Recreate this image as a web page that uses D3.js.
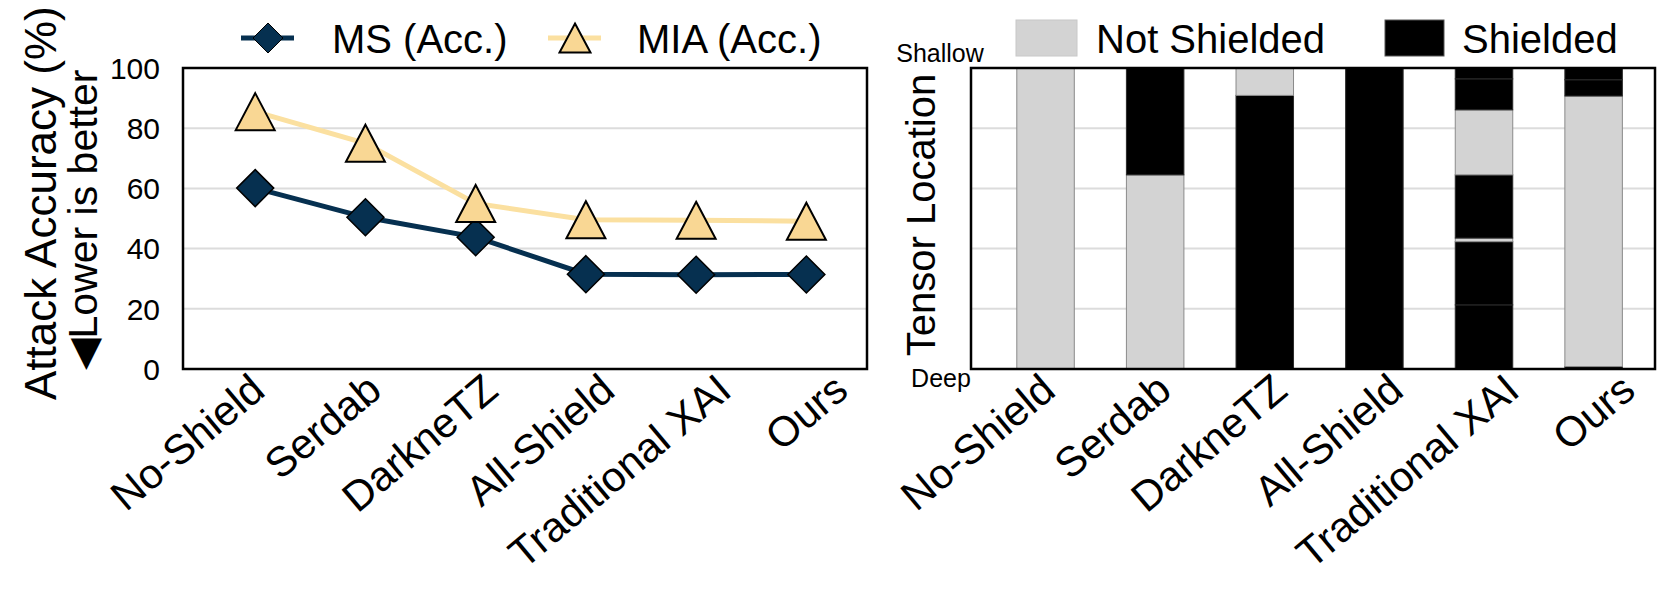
<!DOCTYPE html>
<html lang="en">
<head>
<meta charset="UTF-8">
<title>Attack accuracy and tensor shielding</title>
<style>
  body { margin: 0; background: #fff; }
  text { font-family: "Liberation Sans", Arial, sans-serif; fill: #000; }
</style>
</head>
<body>
<svg id="svg"></svg>
<script src="https://d3js.org/d3.v7.min.js"></script>
<script>
// data
const methods = ["No-Shield", "Serdab", "DarkneTZ", "All-Shield", "Traditional XAI", "Ours"];
const msAcc  = [60.1, 50.4, 43.8, 31.5, 31.3, 31.4];
const miaAcc = [85.5, 75.0, 55.0, 49.6, 49.4, 49.1];
const yTicks = [0, 20, 40, 60, 80, 100];
const gridTicks = [20, 40, 60, 80];

// tensor location segments (0 = deep, 1 = shallow)
const segMethod   = [0, 1, 1, 2, 2, 3, 4, 4, 4, 4, 4, 4, 4, 5, 5, 5, 5];
const segLow      = [0, 0, 0.645, 0, 0.909, 0, 0, 0.213, 0.423, 0.435, 0.645, 0.861, 0.964, 0, 0.008, 0.907, 0.961];
const segHigh     = [1, 0.645, 1, 0.909, 1, 1, 0.213, 0.423, 0.435, 0.645, 0.861, 0.964, 1, 0.008, 0.907, 0.961, 1];
const segShielded = [0, 0, 1, 1, 0, 1, 1, 1, 0, 1, 0, 1, 1, 1, 0, 1, 1];

const width = 1661, height = 592;
const navy = "#063050", mialine = "#fbe0a0", miafill = "#f9d794", lightGray = "#d3d3d3";

const svg = d3.select("#svg").attr("width", width).attr("height", height)
  .attr("viewBox", `0 0 ${width} ${height}`);

const plotTop = 68, plotBottom = 369;
const labelAngle = -40, labelY = 394, labelSize = 42;

// rotated category labels, spread a little wider than the ticks
function drawLabels(g, x) {
  const xl = d3.scaleLinear().domain([0, methods.length - 1])
    .range([x(0) + 12, x(methods.length - 1) + 44]);
  g.selectAll("text.xtick").data(methods).enter().append("text")
    .attr("class", "xtick")
    .attr("transform", (d, i) => `translate(${xl(i)},${labelY}) rotate(${labelAngle})`)
    .attr("text-anchor", "end").attr("font-size", labelSize).text(d => d);
}

// ---------- left chart ----------
const L = {left: 183, right: 867};
const xL = d3.scaleLinear().domain([-0.655, 5.55]).range([L.left, L.right]);
const yL = d3.scaleLinear().domain([0, 100]).range([plotBottom, plotTop]);
const gL = svg.append("g");

gL.selectAll("line.grid").data(gridTicks).enter().append("line")
  .attr("x1", L.left).attr("x2", L.right)
  .attr("y1", d => yL(d)).attr("y2", d => yL(d))
  .attr("stroke", "#dcdcdc").attr("stroke-width", 2);

gL.selectAll("text.ytick").data(yTicks).enter().append("text")
  .attr("x", L.left - 23).attr("y", d => yL(d)).attr("dy", "0.36em")
  .attr("text-anchor", "end").attr("font-size", 30).text(d => d);

const lineGen = ys => d3.line().x((d, i) => xL(i)).y(d => yL(d))(ys);
const diamond = r => `M0,${-r}L${r},0L0,${r}L${-r},0Z`;
const triangle = (w, h) => `M0,${-h}L${w},${h}L${-w},${h}Z`;

gL.append("path").attr("d", lineGen(msAcc)).attr("fill", "none")
  .attr("stroke", navy).attr("stroke-width", 5);
gL.selectAll("path.ms").data(msAcc).enter().append("path")
  .attr("transform", (d, i) => `translate(${xL(i)},${yL(d)})`)
  .attr("d", diamond(18.5)).attr("fill", navy).attr("stroke", "#000").attr("stroke-width", 1.5);

gL.append("path").attr("d", lineGen(miaAcc)).attr("fill", "none")
  .attr("stroke", mialine).attr("stroke-width", 5);
gL.selectAll("path.mia").data(miaAcc).enter().append("path")
  .attr("transform", (d, i) => `translate(${xL(i)},${yL(d)})`)
  .attr("d", triangle(19.5, 18.5)).attr("fill", miafill).attr("stroke", "#000").attr("stroke-width", 2);

gL.append("rect").attr("x", L.left).attr("y", plotTop)
  .attr("width", L.right - L.left).attr("height", plotBottom - plotTop)
  .attr("fill", "none").attr("stroke", "#000").attr("stroke-width", 2.5);

drawLabels(gL, xL);

// y label (two lines)
gL.append("text").attr("transform", "translate(56,400) rotate(-90)")
  .attr("text-anchor", "start").attr("font-size", 44).text("Attack Accuracy (%)");
gL.append("text").attr("transform", "translate(97,220) rotate(-90)")
  .attr("text-anchor", "middle").attr("font-size", 41).text("\u25C0Lower is better");

// legend
const legL = svg.append("g");
legL.append("line").attr("x1", 241).attr("x2", 294).attr("y1", 38).attr("y2", 38)
  .attr("stroke", navy).attr("stroke-width", 5);
legL.append("path").attr("transform", "translate(268,38)").attr("d", diamond(15))
  .attr("fill", navy).attr("stroke", "#000").attr("stroke-width", 1);
legL.append("text").attr("x", 332).attr("y", 53).attr("font-size", 40).text("MS (Acc.)");
legL.append("line").attr("x1", 548).attr("x2", 601).attr("y1", 38).attr("y2", 38)
  .attr("stroke", mialine).attr("stroke-width", 5);
legL.append("path").attr("transform", "translate(575,38)").attr("d", triangle(15.5, 14.5))
  .attr("fill", miafill).attr("stroke", "#000").attr("stroke-width", 2);
legL.append("text").attr("x", 637).attr("y", 53).attr("font-size", 40).text("MIA (Acc.)");

// ---------- right chart ----------
const R = {left: 971, right: 1655};
const xR = d3.scaleLinear().domain([-0.68, 5.56]).range([R.left, R.right]);
const yR = d3.scaleLinear().domain([0, 1]).range([plotBottom, plotTop]);
const barW = 57.5;
const gR = svg.append("g");

gR.selectAll("line.grid").data(gridTicks).enter().append("line")
  .attr("x1", R.left).attr("x2", R.right)
  .attr("y1", d => yL(d)).attr("y2", d => yL(d))
  .attr("stroke", "#dcdcdc").attr("stroke-width", 2);

const segs = segMethod.map((m, i) => ({m, lo: segLow[i], hi: segHigh[i], s: segShielded[i]}));
gR.selectAll("rect.seg").data(segs).enter().append("rect")
  .attr("x", d => xR(d.m) - barW / 2).attr("width", barW)
  .attr("y", d => yR(d.hi)).attr("height", d => yR(d.lo) - yR(d.hi))
  .attr("fill", d => d.s ? "#000" : lightGray)
  .attr("stroke", d => d.s ? "#2a2a2a" : "#8a8a8a").attr("stroke-width", 1);

gR.append("rect").attr("x", R.left).attr("y", plotTop)
  .attr("width", R.right - R.left).attr("height", plotBottom - plotTop)
  .attr("fill", "none").attr("stroke", "#000").attr("stroke-width", 2.5);

drawLabels(gR, xR);

gR.append("text").attr("x", 940).attr("y", 62).attr("text-anchor", "middle")
  .attr("font-size", 25).text("Shallow");
gR.append("text").attr("x", 941).attr("y", 387).attr("text-anchor", "middle")
  .attr("font-size", 25).text("Deep");
gR.append("text").attr("transform", "translate(935,215) rotate(-90)")
  .attr("text-anchor", "middle").attr("font-size", 40).text("Tensor Location");

// legend
const legR = svg.append("g");
legR.append("rect").attr("x", 1016).attr("y", 20).attr("width", 61).attr("height", 36)
  .attr("fill", lightGray).attr("stroke", "#c8c8c8").attr("stroke-width", 1);
legR.append("text").attr("x", 1096).attr("y", 53).attr("font-size", 40).text("Not Shielded");
legR.append("rect").attr("x", 1385).attr("y", 20).attr("width", 59).attr("height", 36)
  .attr("fill", "#000").attr("stroke", "#555").attr("stroke-width", 1);
legR.append("text").attr("x", 1462).attr("y", 53).attr("font-size", 40).text("Shielded");
</script>
</body>
</html>
